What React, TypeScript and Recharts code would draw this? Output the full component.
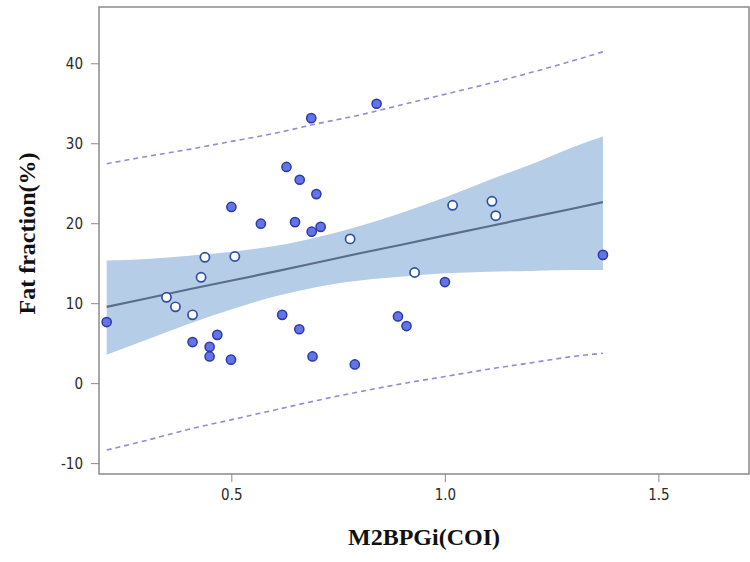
import React from 'react';
import { ComposedChart, XAxis, YAxis, Area, Line, Scatter, ReferenceArea, Label } from 'recharts';

const X_MIN = 0.189;
const X_MAX = 1.711;
const Y_MIN = -11.3;
const Y_MAX = 47.1;
const xTicks = [0.5, 1.0, 1.5];
const yTicks = [-10, 0, 10, 20, 30, 40];

const bandX = [0.207, 0.3, 0.4, 0.5, 0.6, 0.7, 0.8, 0.9, 1.0, 1.1, 1.2, 1.3, 1.369];
const fitY = [9.6, 10.65, 11.8, 12.9, 14.0, 15.15, 16.3, 17.4, 18.55, 19.65, 20.8, 21.9, 22.7];
const ciLower = [3.6, 5.5, 7.5, 9.3, 10.9, 12.1, 12.9, 13.4, 13.8, 14.0, 14.1, 14.2, 14.2];
const ciUpper = [15.4, 15.6, 16.0, 16.5, 17.2, 18.3, 19.7, 21.4, 23.3, 25.4, 27.4, 29.6, 30.9];
const predUpper = [27.5, 28.4, 29.3, 30.3, 31.3, 32.5, 33.6, 34.9, 36.2, 37.5, 38.9, 40.4, 41.5];
const predLower = [-8.3, -7.1, -5.7, -4.5, -3.3, -2.1, -1.0, 0.0, 0.9, 1.8, 2.6, 3.4, 3.8];

const filledX = [0.207, 0.408, 0.448, 0.448, 0.466, 0.498, 0.499, 0.568, 0.618, 0.628, 0.648, 0.658, 0.659, 0.687, 0.686, 0.689, 0.698, 0.708, 0.788, 0.839, 0.889, 0.909, 0.999, 1.369];
const filledY = [7.7, 5.2, 4.6, 3.4, 6.1, 3.0, 22.1, 20.0, 8.6, 27.1, 20.2, 6.8, 25.5, 19.0, 33.2, 3.4, 23.7, 19.6, 2.4, 35.0, 8.4, 7.2, 12.7, 16.1];
const openX = [0.347, 0.368, 0.408, 0.428, 0.437, 0.507, 0.777, 0.928, 1.017, 1.109, 1.118];
const openY = [10.8, 9.6, 8.6, 13.3, 15.8, 15.9, 18.1, 13.9, 22.3, 22.8, 21.0];

const bandData = bandX.map((x, i) => ({
  x,
  fit: fitY[i],
  ci: [ciLower[i], ciUpper[i]],
  pu: predUpper[i],
  pl: predLower[i],
}));
const filledData = filledX.map((x, i) => ({ x, y: filledY[i] }));
const openData = openX.map((x, i) => ({ x, y: openY[i] }));

const tickFont = "'DejaVu Sans Condensed', 'DejaVu Sans', sans-serif";
const titleFont = "'Liberation Serif', 'Times New Roman', serif";
const tickStyle = { fill: '#2a2a2a', fontSize: 15, fontFamily: tickFont, fontStretch: 'condensed' as const };

const FilledDot = (p: any) => (
  <circle cx={p.cx} cy={p.cy} r={4.6} fill="#6373e8" stroke="#2b3aa8" strokeWidth={1.5} />
);
const OpenDot = (p: any) => (
  <circle cx={p.cx} cy={p.cy} r={4.6} fill="#ffffff" stroke="#2f4fa6" strokeWidth={1.7} />
);

export default function App() {
  return (
    <div style={{ position: 'absolute', left: 0, top: 0, width: 750, height: 562, background: '#fff' }}>
      <ComposedChart
        width={750}
        height={562}
        data={bandData}
        margin={{ top: 7, right: 1, bottom: 0, left: 0 }}
      >
        <XAxis
          dataKey="x"
          type="number"
          domain={[X_MIN, X_MAX]}
          ticks={xTicks}
          allowDataOverflow
          tickFormatter={(v: number) => v.toFixed(1)}
          height={88}
          tickSize={8}
          tickMargin={7}
          axisLine={false}
          tickLine={{ stroke: '#8a8a8a' }}
          tick={tickStyle}
        >
          <Label
            value="M2BPGi(COI)"
            position="insideBottom"
            offset={17}
            style={{ fontFamily: titleFont, fontWeight: 'bold', fontSize: 24, fill: '#111' }}
          />
        </XAxis>
        <YAxis
          type="number"
          domain={[Y_MIN, Y_MAX]}
          ticks={yTicks}
          allowDataOverflow
          width={99}
          tickSize={8}
          tickMargin={8}
          axisLine={false}
          tickLine={{ stroke: '#8a8a8a' }}
          tick={tickStyle}
        >
          <Label
            value="Fat fraction(%)"
            angle={-90}
            position="insideLeft"
            offset={26}
            dy={-7}
            style={{ fontFamily: titleFont, fontWeight: 'bold', fontSize: 24, fill: '#111', textAnchor: 'middle' }}
          />
        </YAxis>
        <Area
          dataKey="ci"
          type="monotone"
          stroke="none"
          fill="#b6cde8"
          fillOpacity={1}
          isAnimationActive={false}
          dot={false}
          activeDot={false}
        />
        <Line dataKey="fit" type="linear" stroke="#5b6c8c" strokeWidth={2.2} dot={false} isAnimationActive={false} />
        <Line dataKey="pu" type="monotone" stroke="#8e8ed2" strokeWidth={1.6} strokeDasharray="5 4" dot={false} isAnimationActive={false} />
        <Line dataKey="pl" type="monotone" stroke="#8e8ed2" strokeWidth={1.6} strokeDasharray="5 4" dot={false} isAnimationActive={false} />
        <ReferenceArea
          x1={X_MIN}
          x2={X_MAX}
          y1={Y_MIN}
          y2={Y_MAX}
          fill="none"
          stroke="#8a8a8a"
          strokeWidth={1.5}
          ifOverflow="visible"
        />
        <Scatter data={filledData} dataKey="y" shape={FilledDot} isAnimationActive={false} />
        <Scatter data={openData} dataKey="y" shape={OpenDot} isAnimationActive={false} />
      </ComposedChart>
    </div>
  );
}
